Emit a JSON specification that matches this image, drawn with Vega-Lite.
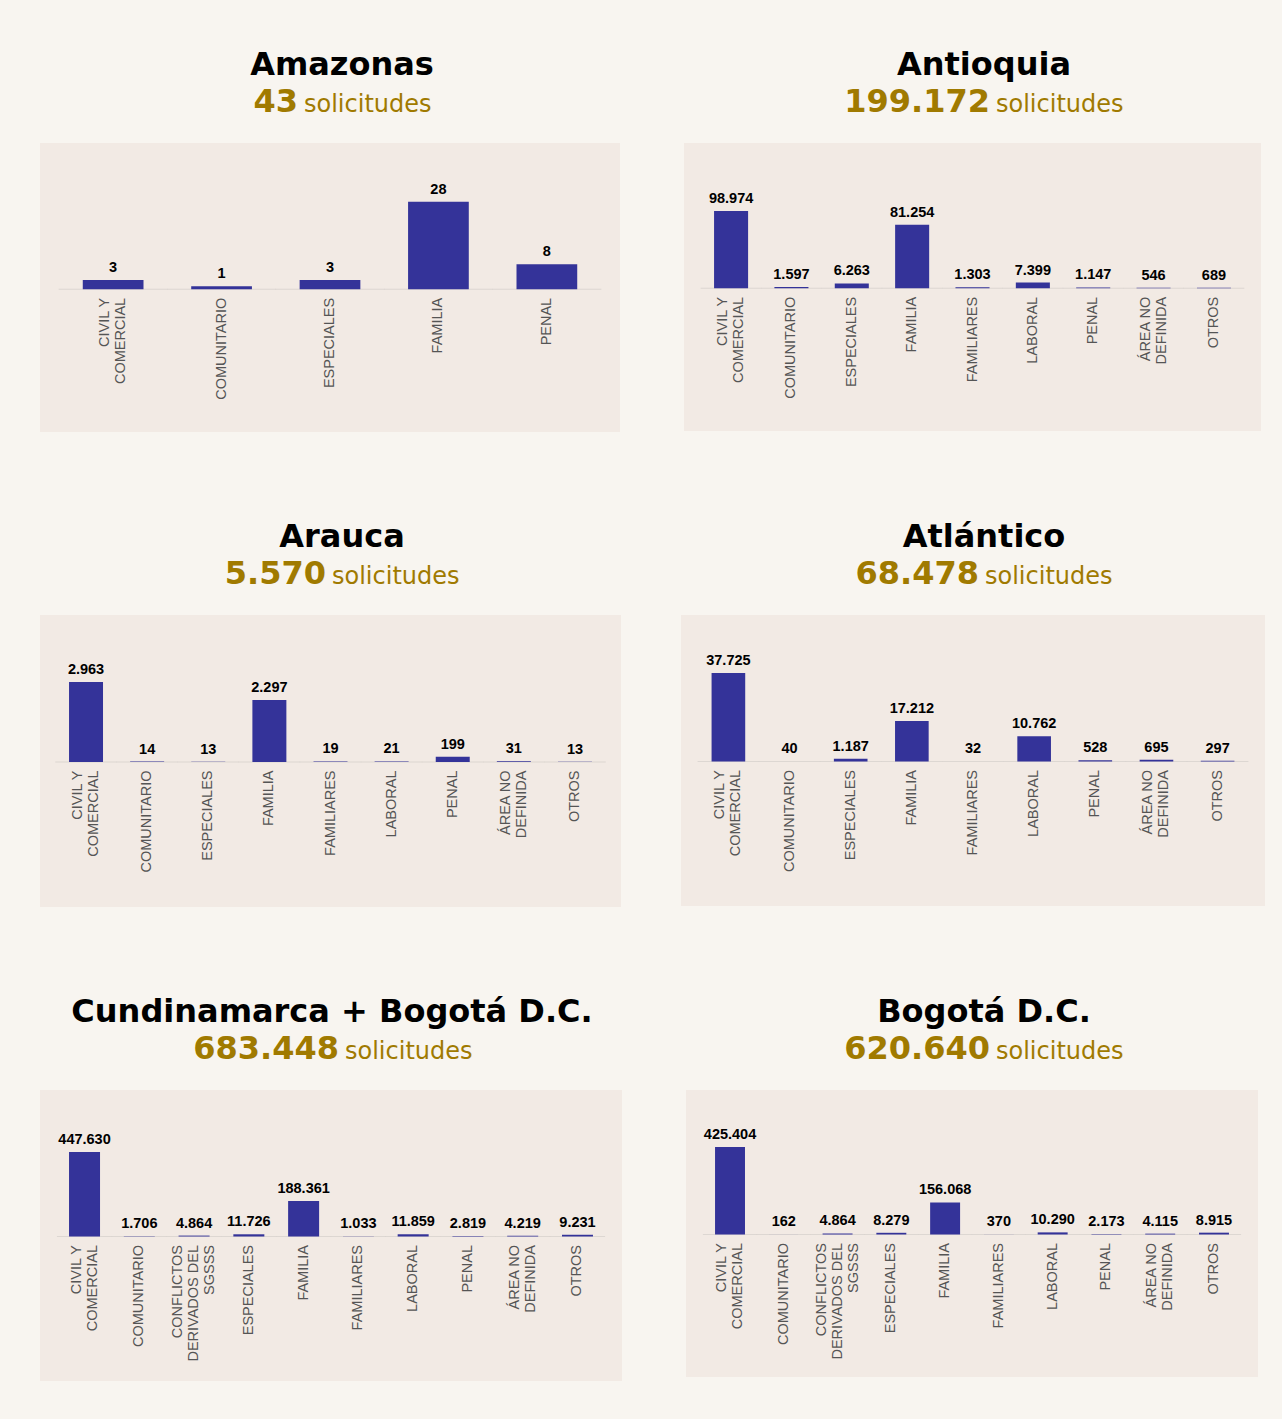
{
  "$schema": "https://vega.github.io/schema/vega-lite/v6.json",
  "background": "#f8f5f0",
  "padding": {"left": 40, "top": 49, "right": 17, "bottom": 38},
  "config": {
    "view": {"stroke": null},
    "title": {"baseline": "top"},
    "locale": {"number": {"decimal": ",", "thousands": ".", "grouping": [3], "currency": ["$", ""]}},
    "axis": {"title": null, "domain": false, "ticks": false, "tickSize": 0, "labelAngle": 270, "labelAlign": "right", "labelBaseline": "middle", "labelPadding": 8, "labelFont": "Liberation Sans", "labelFontSize": 14.5, "labelColor": "#555555", "labelLineHeight": 16, "labelOverlap": false, "labelLimit": 400, "labelExpr": "datum.value == 'CIVIL Y COMERCIAL' ? ['CIVIL Y', 'COMERCIAL'] : datum.value == 'ÁREA NO DEFINIDA' ? ['ÁREA NO', 'DEFINIDA'] : datum.value == 'CONFLICTOS DERIVADOS DEL SGSSS' ? ['CONFLICTOS', 'DERIVADOS DEL', 'SGSSS'] : datum.label"}
  },
  "datasets": {
    "amazonas": [
      {"area": "CIVIL Y COMERCIAL", "n": 3}, {"area": "COMUNITARIO", "n": 1}, {"area": "ESPECIALES", "n": 3}, {"area": "FAMILIA", "n": 28}, {"area": "PENAL", "n": 8}
    ],
    "antioquia": [
      {"area": "CIVIL Y COMERCIAL", "n": 98974}, {"area": "COMUNITARIO", "n": 1597}, {"area": "ESPECIALES", "n": 6263}, {"area": "FAMILIA", "n": 81254}, {"area": "FAMILIARES", "n": 1303}, {"area": "LABORAL", "n": 7399}, {"area": "PENAL", "n": 1147}, {"area": "ÁREA NO DEFINIDA", "n": 546}, {"area": "OTROS", "n": 689}
    ],
    "arauca": [
      {"area": "CIVIL Y COMERCIAL", "n": 2963}, {"area": "COMUNITARIO", "n": 14}, {"area": "ESPECIALES", "n": 13}, {"area": "FAMILIA", "n": 2297}, {"area": "FAMILIARES", "n": 19}, {"area": "LABORAL", "n": 21}, {"area": "PENAL", "n": 199}, {"area": "ÁREA NO DEFINIDA", "n": 31}, {"area": "OTROS", "n": 13}
    ],
    "atlantico": [
      {"area": "CIVIL Y COMERCIAL", "n": 37725}, {"area": "COMUNITARIO", "n": 40}, {"area": "ESPECIALES", "n": 1187}, {"area": "FAMILIA", "n": 17212}, {"area": "FAMILIARES", "n": 32}, {"area": "LABORAL", "n": 10762}, {"area": "PENAL", "n": 528}, {"area": "ÁREA NO DEFINIDA", "n": 695}, {"area": "OTROS", "n": 297}
    ],
    "cundinamarca": [
      {"area": "CIVIL Y COMERCIAL", "n": 447630}, {"area": "COMUNITARIO", "n": 1706}, {"area": "CONFLICTOS DERIVADOS DEL SGSSS", "n": 4864}, {"area": "ESPECIALES", "n": 11726}, {"area": "FAMILIA", "n": 188361}, {"area": "FAMILIARES", "n": 1033}, {"area": "LABORAL", "n": 11859}, {"area": "PENAL", "n": 2819}, {"area": "ÁREA NO DEFINIDA", "n": 4219}, {"area": "OTROS", "n": 9231}
    ],
    "bogota": [
      {"area": "CIVIL Y COMERCIAL", "n": 425404}, {"area": "COMUNITARIO", "n": 162}, {"area": "CONFLICTOS DERIVADOS DEL SGSSS", "n": 4864}, {"area": "ESPECIALES", "n": 8279}, {"area": "FAMILIA", "n": 156068}, {"area": "FAMILIARES", "n": 370}, {"area": "LABORAL", "n": 10290}, {"area": "PENAL", "n": 2173}, {"area": "ÁREA NO DEFINIDA", "n": 4115}, {"area": "OTROS", "n": 8915}
    ]
  },
  "spacing": 89,
  "vconcat": [
    {
      "spacing": 64,
      "hconcat": [
        {
          "title": {"text": "Amazonas", "anchor": "middle", "dx": 12, "offset": 4, "fontSize": 32, "font": "DejaVu Sans", "fontWeight": "bold", "color": "#000000"},
          "spacing": 23,
          "vconcat": [
            {"spacing": 6, "hconcat": [
              {"width": 258, "height": 1, "data": {"values": [{}]}, "mark": {"type": "text", "text": "", "fontSize": 0}, "encoding": {}, "title": {"text": "43", "anchor": "end", "frame": "group", "offset": 0, "fontSize": 32, "font": "DejaVu Sans", "fontWeight": "bold", "color": "#a07a00"}},
              {"width": 316, "height": 1, "data": {"values": [{}]}, "mark": {"type": "text", "text": "", "fontSize": 0}, "encoding": {}, "title": {"text": "solicitudes", "anchor": "start", "frame": "group", "offset": 2, "fontSize": 24, "font": "DejaVu Sans", "fontWeight": "normal", "color": "#a07a00"}}
            ]},
            {
              "width": 580, "height": 289,
              "data": {"name": "amazonas"},
              "view": {"fill": "#f2eae4", "stroke": null},
              "encoding": {"x": {"field": "area", "type": "nominal", "sort": null, "scale": {"paddingInner": 0.44, "paddingOuter": 0.3945}, "axis": {"orient": "bottom", "offset": -142.7, "labelOffset": {"condition": [{"test": "datum.value == 'CONFLICTOS DERIVADOS DEL SGSSS'", "value": -16}, {"test": "datum.value == 'CIVIL Y COMERCIAL' || datum.value == 'ÁREA NO DEFINIDA'", "value": -8}], "value": 0}}}},
              "layer": [
                {"mark": {"type": "tick", "orient": "horizontal", "thickness": 1, "size": 109, "color": "#d4cfcb"}, "encoding": {"y": {"datum": 0, "type": "quantitative", "scale": {"domain": [-45.66, 46.82], "nice": false}, "axis": null}}},
                {"mark": {"type": "bar", "color": "#343399"}, "encoding": {"y": {"field": "n", "type": "quantitative", "scale": {"domain": [-45.66, 46.82], "nice": false}, "axis": null}}},
                {"mark": {"type": "text", "baseline": "alphabetic", "dy": -8, "font": "Liberation Sans", "fontWeight": "bold", "fontSize": 14.5, "color": "#000000"}, "encoding": {"y": {"field": "n", "type": "quantitative", "scale": {"domain": [-45.66, 46.82], "nice": false}, "axis": null}, "text": {"field": "n", "type": "quantitative", "format": ",d"}}}
              ]
            }
          ]
        },
        {
          "title": {"text": "Antioquia", "anchor": "middle", "dx": 11.5, "offset": 4, "fontSize": 32, "font": "DejaVu Sans", "fontWeight": "bold", "color": "#000000"},
          "spacing": 23,
          "vconcat": [
            {"spacing": 6, "hconcat": [
              {"width": 306, "height": 1, "data": {"values": [{}]}, "mark": {"type": "text", "text": "", "fontSize": 0}, "encoding": {}, "title": {"text": "199.172", "anchor": "end", "frame": "group", "offset": 0, "fontSize": 32, "font": "DejaVu Sans", "fontWeight": "bold", "color": "#a07a00"}},
              {"width": 265, "height": 1, "data": {"values": [{}]}, "mark": {"type": "text", "text": "", "fontSize": 0}, "encoding": {}, "title": {"text": "solicitudes", "anchor": "start", "frame": "group", "offset": 2, "fontSize": 24, "font": "DejaVu Sans", "fontWeight": "normal", "color": "#a07a00"}}
            ]},
            {
              "width": 577, "height": 288,
              "data": {"name": "antioquia"},
              "view": {"fill": "#f2eae4", "stroke": null},
              "encoding": {"x": {"field": "area", "type": "nominal", "sort": null, "scale": {"paddingInner": 0.436, "paddingOuter": 0.498}, "axis": {"orient": "bottom", "offset": -142.7, "labelOffset": {"condition": [{"test": "datum.value == 'CONFLICTOS DERIVADOS DEL SGSSS'", "value": -16}, {"test": "datum.value == 'CIVIL Y COMERCIAL' || datum.value == 'ÁREA NO DEFINIDA'", "value": -8}], "value": 0}}}},
              "layer": [
                {"mark": {"type": "tick", "orient": "horizontal", "thickness": 1, "size": 60.8, "color": "#d4cfcb"}, "encoding": {"y": {"datum": 0, "type": "quantitative", "scale": {"domain": [-182715, 186044], "nice": false}, "axis": null}}},
                {"mark": {"type": "bar", "color": "#343399"}, "encoding": {"y": {"field": "n", "type": "quantitative", "scale": {"domain": [-182715, 186044], "nice": false}, "axis": null}}},
                {"mark": {"type": "text", "baseline": "alphabetic", "dy": -8, "font": "Liberation Sans", "fontWeight": "bold", "fontSize": 14.5, "color": "#000000"}, "encoding": {"y": {"field": "n", "type": "quantitative", "scale": {"domain": [-182715, 186044], "nice": false}, "axis": null}, "text": {"field": "n", "type": "quantitative", "format": ",d"}}}
              ]
            }
          ]
        }
      ]
    },
    {
      "spacing": 60,
      "hconcat": [
        {
          "title": {"text": "Arauca", "anchor": "middle", "dx": 11.5, "offset": 4, "fontSize": 32, "font": "DejaVu Sans", "fontWeight": "bold", "color": "#000000"},
          "spacing": 23,
          "vconcat": [
            {"spacing": 6, "hconcat": [
              {"width": 286, "height": 1, "data": {"values": [{}]}, "mark": {"type": "text", "text": "", "fontSize": 0}, "encoding": {}, "title": {"text": "5.570", "anchor": "end", "frame": "group", "offset": 0, "fontSize": 32, "font": "DejaVu Sans", "fontWeight": "bold", "color": "#a07a00"}},
              {"width": 289, "height": 1, "data": {"values": [{}]}, "mark": {"type": "text", "text": "", "fontSize": 0}, "encoding": {}, "title": {"text": "solicitudes", "anchor": "start", "frame": "group", "offset": 2, "fontSize": 24, "font": "DejaVu Sans", "fontWeight": "normal", "color": "#a07a00"}}
            ]},
            {
              "width": 581, "height": 292,
              "data": {"name": "arauca"},
              "view": {"fill": "#f2eae4", "stroke": null},
              "encoding": {"x": {"field": "area", "type": "nominal", "sort": null, "scale": {"paddingInner": 0.444, "paddingOuter": 0.475}, "axis": {"orient": "bottom", "offset": -145, "labelOffset": {"condition": [{"test": "datum.value == 'CONFLICTOS DERIVADOS DEL SGSSS'", "value": -16}, {"test": "datum.value == 'CIVIL Y COMERCIAL' || datum.value == 'ÁREA NO DEFINIDA'", "value": -8}], "value": 0}}}},
              "layer": [
                {"mark": {"type": "tick", "orient": "horizontal", "thickness": 1, "size": 61.6, "color": "#d4cfcb"}, "encoding": {"y": {"datum": 0, "type": "quantitative", "scale": {"domain": [-5370, 5444], "nice": false}, "axis": null}}},
                {"mark": {"type": "bar", "color": "#343399"}, "encoding": {"y": {"field": "n", "type": "quantitative", "scale": {"domain": [-5370, 5444], "nice": false}, "axis": null}}},
                {"mark": {"type": "text", "baseline": "alphabetic", "dy": -8, "font": "Liberation Sans", "fontWeight": "bold", "fontSize": 14.5, "color": "#000000"}, "encoding": {"y": {"field": "n", "type": "quantitative", "scale": {"domain": [-5370, 5444], "nice": false}, "axis": null}, "text": {"field": "n", "type": "quantitative", "format": ",d"}}}
              ]
            }
          ]
        },
        {
          "title": {"text": "Atlántico", "anchor": "middle", "dx": 11, "offset": 4, "fontSize": 32, "font": "DejaVu Sans", "fontWeight": "bold", "color": "#000000"},
          "spacing": 23,
          "vconcat": [
            {"spacing": 6, "hconcat": [
              {"width": 298, "height": 1, "data": {"values": [{}]}, "mark": {"type": "text", "text": "", "fontSize": 0}, "encoding": {}, "title": {"text": "68.478", "anchor": "end", "frame": "group", "offset": 0, "fontSize": 32, "font": "DejaVu Sans", "fontWeight": "bold", "color": "#a07a00"}},
              {"width": 280, "height": 1, "data": {"values": [{}]}, "mark": {"type": "text", "text": "", "fontSize": 0}, "encoding": {}, "title": {"text": "solicitudes", "anchor": "start", "frame": "group", "offset": 2, "fontSize": 24, "font": "DejaVu Sans", "fontWeight": "normal", "color": "#a07a00"}}
            ]},
            {
              "width": 584, "height": 291,
              "data": {"name": "atlantico"},
              "view": {"fill": "#f2eae4", "stroke": null},
              "encoding": {"x": {"field": "area", "type": "nominal", "sort": null, "scale": {"paddingInner": 0.45, "paddingOuter": 0.5}, "axis": {"orient": "bottom", "offset": -144.5, "labelOffset": {"condition": [{"test": "datum.value == 'CONFLICTOS DERIVADOS DEL SGSSS'", "value": -16}, {"test": "datum.value == 'CIVIL Y COMERCIAL' || datum.value == 'ÁREA NO DEFINIDA'", "value": -8}], "value": 0}}}},
              "layer": [
                {"mark": {"type": "tick", "orient": "horizontal", "thickness": 1, "size": 61.6, "color": "#d4cfcb"}, "encoding": {"y": {"datum": 0, "type": "quantitative", "scale": {"domain": [-61594, 62447], "nice": false}, "axis": null}}},
                {"mark": {"type": "bar", "color": "#343399"}, "encoding": {"y": {"field": "n", "type": "quantitative", "scale": {"domain": [-61594, 62447], "nice": false}, "axis": null}}},
                {"mark": {"type": "text", "baseline": "alphabetic", "dy": -8, "font": "Liberation Sans", "fontWeight": "bold", "fontSize": 14.5, "color": "#000000"}, "encoding": {"y": {"field": "n", "type": "quantitative", "scale": {"domain": [-61594, 62447], "nice": false}, "axis": null}, "text": {"field": "n", "type": "quantitative", "format": ",d"}}}
              ]
            }
          ]
        }
      ]
    },
    {
      "spacing": 64,
      "hconcat": [
        {
          "title": {"text": "Cundinamarca + Bogotá D.C.", "anchor": "middle", "dx": 1, "offset": 4, "fontSize": 32, "font": "DejaVu Sans", "fontWeight": "bold", "color": "#000000"},
          "spacing": 23,
          "vconcat": [
            {"spacing": 6, "hconcat": [
              {"width": 299, "height": 1, "data": {"values": [{}]}, "mark": {"type": "text", "text": "", "fontSize": 0}, "encoding": {}, "title": {"text": "683.448", "anchor": "end", "frame": "group", "offset": 0, "fontSize": 32, "font": "DejaVu Sans", "fontWeight": "bold", "color": "#a07a00"}},
              {"width": 277, "height": 1, "data": {"values": [{}]}, "mark": {"type": "text", "text": "", "fontSize": 0}, "encoding": {}, "title": {"text": "solicitudes", "anchor": "start", "frame": "group", "offset": 2, "fontSize": 24, "font": "DejaVu Sans", "fontWeight": "normal", "color": "#a07a00"}}
            ]},
            {
              "width": 582, "height": 291,
              "data": {"name": "cundinamarca"},
              "view": {"fill": "#f2eae4", "stroke": null},
              "encoding": {"x": {"field": "area", "type": "nominal", "sort": null, "scale": {"paddingInner": 0.434, "paddingOuter": 0.53}, "axis": {"orient": "bottom", "offset": -144.5, "labelOffset": {"condition": [{"test": "datum.value == 'CONFLICTOS DERIVADOS DEL SGSSS'", "value": -16}, {"test": "datum.value == 'CIVIL Y COMERCIAL' || datum.value == 'ÁREA NO DEFINIDA'", "value": -8}], "value": 0}}}},
              "layer": [
                {"mark": {"type": "tick", "orient": "horizontal", "thickness": 1, "size": 55.2, "color": "#d4cfcb"}, "encoding": {"y": {"datum": 0, "type": "quantitative", "scale": {"domain": [-765360, 775953], "nice": false}, "axis": null}}},
                {"mark": {"type": "bar", "color": "#343399"}, "encoding": {"y": {"field": "n", "type": "quantitative", "scale": {"domain": [-765360, 775953], "nice": false}, "axis": null}}},
                {"mark": {"type": "text", "baseline": "alphabetic", "dy": -8, "font": "Liberation Sans", "fontWeight": "bold", "fontSize": 14.5, "color": "#000000"}, "encoding": {"y": {"field": "n", "type": "quantitative", "scale": {"domain": [-765360, 775953], "nice": false}, "axis": null}, "text": {"field": "n", "type": "quantitative", "format": ",d"}}}
              ]
            }
          ]
        },
        {
          "title": {"text": "Bogotá D.C.", "anchor": "middle", "dx": 12, "offset": 4, "fontSize": 32, "font": "DejaVu Sans", "fontWeight": "bold", "color": "#000000"},
          "spacing": 23,
          "vconcat": [
            {"spacing": 6, "hconcat": [
              {"width": 304, "height": 1, "data": {"values": [{}]}, "mark": {"type": "text", "text": "", "fontSize": 0}, "encoding": {}, "title": {"text": "620.640", "anchor": "end", "frame": "group", "offset": 0, "fontSize": 32, "font": "DejaVu Sans", "fontWeight": "bold", "color": "#a07a00"}},
              {"width": 262, "height": 1, "data": {"values": [{}]}, "mark": {"type": "text", "text": "", "fontSize": 0}, "encoding": {}, "title": {"text": "solicitudes", "anchor": "start", "frame": "group", "offset": 2, "fontSize": 24, "font": "DejaVu Sans", "fontWeight": "normal", "color": "#a07a00"}}
            ]},
            {
              "width": 572, "height": 287,
              "data": {"name": "bogota"},
              "view": {"fill": "#f2eae4", "stroke": null},
              "encoding": {"x": {"field": "area", "type": "nominal", "sort": null, "scale": {"paddingInner": 0.443, "paddingOuter": 0.54}, "axis": {"orient": "bottom", "offset": -142.5, "labelOffset": {"condition": [{"test": "datum.value == 'CONFLICTOS DERIVADOS DEL SGSSS'", "value": -16}, {"test": "datum.value == 'CIVIL Y COMERCIAL' || datum.value == 'ÁREA NO DEFINIDA'", "value": -8}], "value": 0}}}},
              "layer": [
                {"mark": {"type": "tick", "orient": "horizontal", "thickness": 1, "size": 54.2, "color": "#d4cfcb"}, "encoding": {"y": {"datum": 0, "type": "quantitative", "scale": {"domain": [-692757, 702479], "nice": false}, "axis": null}}},
                {"mark": {"type": "bar", "color": "#343399"}, "encoding": {"y": {"field": "n", "type": "quantitative", "scale": {"domain": [-692757, 702479], "nice": false}, "axis": null}}},
                {"mark": {"type": "text", "baseline": "alphabetic", "dy": -8, "font": "Liberation Sans", "fontWeight": "bold", "fontSize": 14.5, "color": "#000000"}, "encoding": {"y": {"field": "n", "type": "quantitative", "scale": {"domain": [-692757, 702479], "nice": false}, "axis": null}, "text": {"field": "n", "type": "quantitative", "format": ",d"}}}
              ]
            }
          ]
        }
      ]
    }
  ]
}
